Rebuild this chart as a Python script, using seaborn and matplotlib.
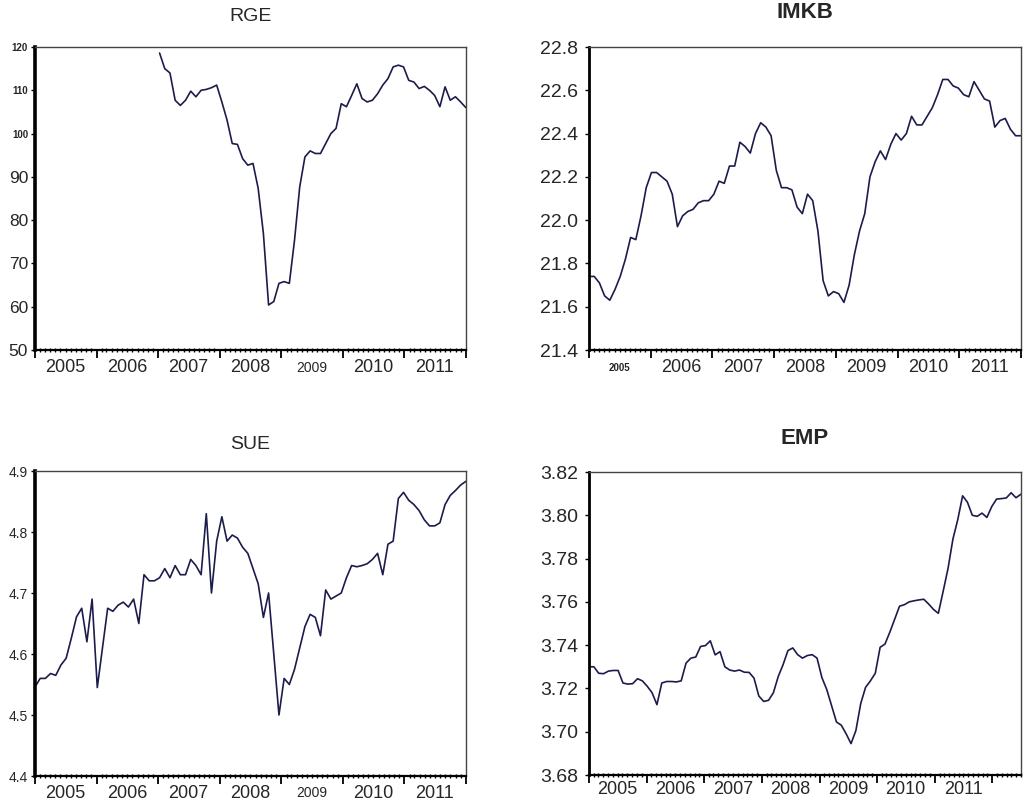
import numpy as np
import pandas as pd
import matplotlib
matplotlib.use("Agg")
import matplotlib.pyplot as plt
import matplotlib.dates as mdates
import matplotlib.transforms as mtransforms
import seaborn as sns

rge = [118.6, 115.0, 114.0, 107.7, 106.5, 107.7, 109.8, 108.5, 110.0, 110.2, 110.6, 111.2,
       107.3, 103.1, 97.7, 97.5, 94.2, 92.7, 93.1, 87.3, 76.9, 60.4, 61.2, 65.4,
       65.8, 65.4, 75.4, 87.7, 94.6, 96.0, 95.4, 95.4, 97.7, 100.0, 101.2, 106.9,
       106.2, 108.8, 111.5, 108.1, 107.3, 107.7, 109.2, 111.2, 112.7, 115.4, 115.8, 115.4,
       112.3, 111.9, 110.4, 110.9, 110.0, 108.8, 106.2, 110.8, 107.7, 108.5, 107.3, 106.0]

imkb = [21.74, 21.74, 21.71, 21.65, 21.63, 21.68, 21.74, 21.82, 21.92, 21.91, 22.02, 22.15,
        22.22, 22.22, 22.20, 22.18, 22.12, 21.97, 22.02, 22.04, 22.05, 22.08, 22.09, 22.09,
        22.12, 22.18, 22.17, 22.25, 22.25, 22.36, 22.34, 22.31, 22.40, 22.45, 22.43, 22.39,
        22.23, 22.15, 22.15, 22.14, 22.06, 22.03, 22.12, 22.09, 21.95, 21.72, 21.65, 21.67,
        21.66, 21.62, 21.70, 21.84, 21.95, 22.03, 22.20, 22.27, 22.32, 22.28, 22.35, 22.40,
        22.37, 22.40, 22.48, 22.44, 22.44, 22.48, 22.52, 22.58, 22.65, 22.65, 22.62, 22.61,
        22.58, 22.57, 22.64, 22.60, 22.56, 22.55, 22.43, 22.46, 22.47, 22.42, 22.39, 22.39]

sue = [4.546, 4.560, 4.560, 4.568, 4.565, 4.582, 4.593, 4.626, 4.661, 4.675, 4.620, 4.690,
       4.545, 4.610, 4.675, 4.670, 4.680, 4.685, 4.677, 4.690, 4.650, 4.730, 4.720, 4.720,
       4.725, 4.740, 4.725, 4.745, 4.730, 4.730, 4.755, 4.745, 4.730, 4.830, 4.700, 4.785,
       4.825, 4.785, 4.795, 4.790, 4.775, 4.765, 4.740, 4.715, 4.660, 4.700, 4.600, 4.500,
       4.560, 4.550, 4.575, 4.610, 4.645, 4.665, 4.660, 4.630, 4.705, 4.690, 4.695, 4.700,
       4.725, 4.745, 4.743, 4.745, 4.748, 4.755, 4.765, 4.730, 4.780, 4.785, 4.855, 4.865,
       4.852, 4.845, 4.835, 4.820, 4.810, 4.810, 4.815, 4.845, 4.860, 4.868, 4.877, 4.883]

emp = [3.7300, 3.7300, 3.7270, 3.7268, 3.7280, 3.7283, 3.7283, 3.7225, 3.7220, 3.7222,
       3.7245, 3.7235, 3.7210, 3.7180, 3.7125, 3.7225, 3.7232, 3.7232, 3.7230, 3.7235,
       3.7317, 3.7340, 3.7345, 3.7394, 3.7398, 3.7420, 3.7355, 3.7370, 3.7300, 3.7285,
       3.7280, 3.7285, 3.7275, 3.7274, 3.7248, 3.7165, 3.7140, 3.7145, 3.7180, 3.7255,
       3.7310, 3.7375, 3.7387, 3.7356, 3.7340, 3.7352, 3.7356, 3.7340, 3.7250, 3.7195,
       3.7120, 3.7045, 3.7030, 3.6990, 3.6945, 3.7005, 3.7130, 3.7205, 3.7235, 3.7270,
       3.7390, 3.7405, 3.7460, 3.7520, 3.7580, 3.7587, 3.7600, 3.7605, 3.7609, 3.7612,
       3.7590, 3.7565, 3.7547, 3.7650, 3.7755, 3.7890, 3.7980, 3.8090, 3.8060, 3.8000,
       3.7995, 3.8010, 3.7990, 3.8040, 3.8075, 3.8077, 3.8080, 3.8104, 3.8081, 3.8097]

years = [2005, 2006, 2007, 2008, 2009, 2010, 2011]
months = pd.date_range("2005-01-01", "2011-12-31", periods=len(imkb))
months_emp = pd.date_range("2005-01-01", "2012-06-30", periods=len(emp))

sns.set_style("white")
plt.rcParams["font.family"] = ["Liberation Sans", "DejaVu Sans"]

line_color = "#1c1c4c"
fig = plt.figure(figsize=(10.28, 8.05), dpi=100)
W, H = 1028, 805


def make_ax(l, t, r, b):
    return fig.add_axes([l / W, 1 - b / H, (r - l) / W, (b - t) / H])


def style(ax, xmax, ylim, yticks, ylab_size, lw_left, small_years=(), small_size=10,
          year_size=13, lab_off=18, small_bold=False):
    ax.set_xlim(pd.Timestamp("2005-01-01"), pd.Timestamp(xmax))
    ax.set_ylim(*ylim)
    ax.set_yticks(yticks)
    ax.set_xlabel("")
    ax.set_ylabel("")
    for s in ["top", "right"]:
        ax.spines[s].set_color("#444444")
        ax.spines[s].set_linewidth(1.0)
    ax.spines["left"].set_color("black")
    ax.spines["left"].set_linewidth(lw_left)
    ax.spines["bottom"].set_color("black")
    ax.spines["bottom"].set_linewidth(1.6)
    ax.xaxis.set_major_locator(mdates.YearLocator())
    ax.xaxis.set_minor_locator(mdates.MonthLocator())
    ax.xaxis.set_major_formatter(plt.NullFormatter())
    ax.xaxis.set_minor_formatter(plt.NullFormatter())
    ax.tick_params(axis="x", which="major", bottom=True, direction="out", length=6,
                   width=1.3, color="black")
    ax.tick_params(axis="x", which="minor", bottom=True, direction="inout", length=3.5,
                   width=1.0, color="black")
    ax.tick_params(axis="y", which="major", direction="out", length=3, width=1.0,
                   color="black", labelsize=ylab_size, pad=2, left=True)
    trans = mtransforms.blended_transform_factory(ax.transData, ax.transAxes)
    off = lab_off / (ax.get_position().height * H)
    for y in years:
        small = y in small_years
        ax.text(mdates.date2num(pd.Timestamp(f"{y}-07-01")), -off, str(y),
                transform=trans, ha="center", va="center",
                fontsize=small_size if small else year_size,
                fontweight="bold" if (small and small_bold) else "normal")


# RGE
ax1 = make_ax(35, 47, 466, 350)
sns.lineplot(x=months[len(months) - len(rge):], y=rge, ax=ax1, color=line_color, linewidth=1.2)
style(ax1, "2012-01-01", (50, 120), [50, 60, 70, 80, 90, 100, 110, 120], 12.5, 2.6,
      small_years=(2009,), small_size=10)
for lab in ax1.get_yticklabels():
    if lab.get_text() in ("100", "110", "120"):
        lab.set_fontsize(7)
        lab.set_fontweight("bold")
ax1.set_title("RGE", fontsize=14, pad=19)

# IMKB
ax2 = make_ax(589, 47, 1021, 350)
sns.lineplot(x=months, y=imkb, ax=ax2, color=line_color, linewidth=1.2)
style(ax2, "2012-01-01", (21.4, 22.8), [21.4, 21.6, 21.8, 22.0, 22.2, 22.4, 22.6, 22.8], 14, 2.0,
      small_years=(2005,), small_size=7, small_bold=True, lab_off=18)
ax2.set_yticklabels([f"{v:.1f}" for v in ax2.get_yticks()])
ax2.tick_params(axis="y", pad=5)
ax2.set_title("IMKB", fontsize=16, fontweight="bold", pad=21)

# SUE
ax3 = make_ax(35, 471, 466, 776)
sns.lineplot(x=months, y=sue, ax=ax3, color=line_color, linewidth=1.2)
style(ax3, "2012-01-01", (4.4, 4.9), [4.4, 4.5, 4.6, 4.7, 4.8, 4.9], 10, 2.6,
      small_years=(2009,), small_size=10, lab_off=17)
ax3.set_yticklabels([f"{v:.1f}" for v in ax3.get_yticks()])
ax3.set_title("SUE", fontsize=14, pad=16)

# EMP
ax4 = make_ax(589, 472, 1021, 775)
sns.lineplot(x=months_emp, y=emp, ax=ax4, color=line_color, linewidth=1.2)
style(ax4, "2012-07-01", (3.68, 3.82), [3.68, 3.70, 3.72, 3.74, 3.76, 3.78, 3.80, 3.82], 14, 2.0,
      lab_off=14)
ax4.set_yticklabels([f"{v:.2f}" for v in ax4.get_yticks()])
ax4.tick_params(axis="y", pad=5)
ax4.set_title("EMP", fontsize=16, fontweight="bold", pad=20)

fig.savefig("out.png", dpi=100)
